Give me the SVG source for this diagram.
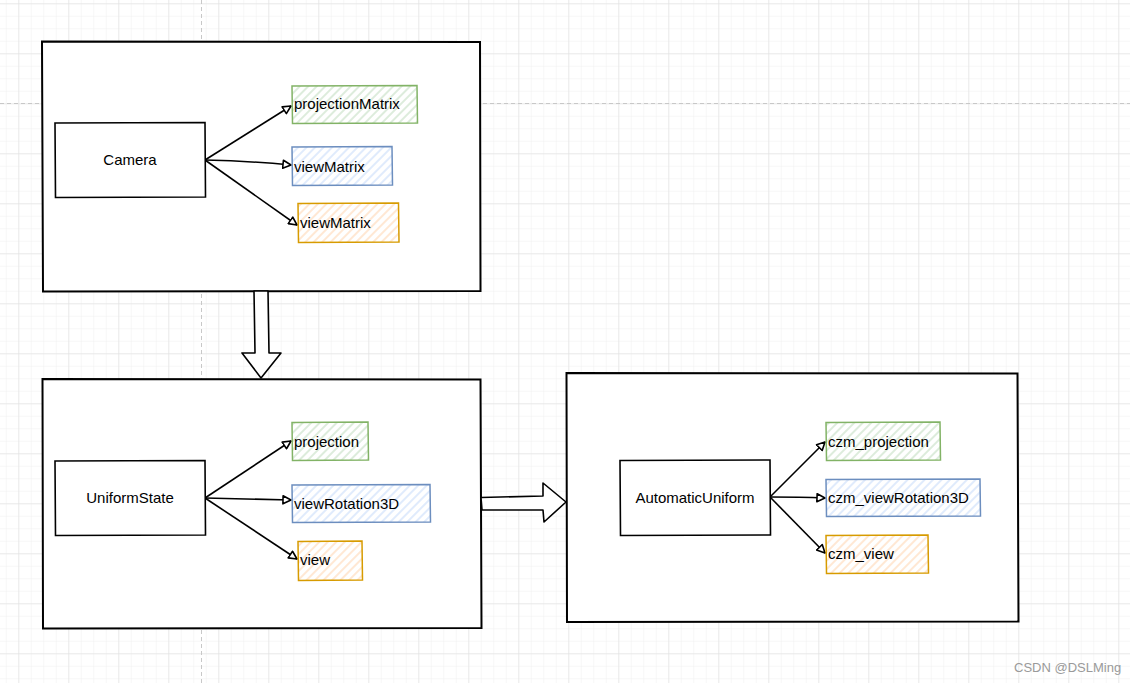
<svg xmlns="http://www.w3.org/2000/svg" width="1130" height="683" viewBox="0 0 1130 683">
<defs>
<pattern id="minor" width="12.5" height="12.5" patternUnits="userSpaceOnUse" x="5.8" y="3.3">
<path d="M0 0H12.5M0 0V12.5" fill="none" stroke="#f0f0f0" stroke-width="1"/>
</pattern>
<pattern id="major" width="50" height="50" patternUnits="userSpaceOnUse" x="18.3" y="3.3">
<path d="M0 0H50M0 0V50" fill="none" stroke="#dedede" stroke-width="1"/>
</pattern>
<pattern id="hg" width="6" height="6" patternUnits="userSpaceOnUse" patternTransform="rotate(-45)">
<rect width="6" height="6" fill="#ffffff"/>
<line x1="0" y1="3" x2="6" y2="3" stroke="#cfe5cd" stroke-width="1.4"/>
</pattern>
<pattern id="hb" width="6" height="6" patternUnits="userSpaceOnUse" patternTransform="rotate(-45)">
<rect width="6" height="6" fill="#ffffff"/>
<line x1="0" y1="3" x2="6" y2="3" stroke="#d3e3fb" stroke-width="1.4"/>
</pattern>
<pattern id="ho" width="6" height="6" patternUnits="userSpaceOnUse" patternTransform="rotate(-45)">
<rect width="6" height="6" fill="#ffffff"/>
<line x1="0" y1="3" x2="6" y2="3" stroke="#ffdfc2" stroke-width="1.4"/>
</pattern>
<marker id="ah" viewBox="0 0 10 10" refX="9" refY="5" markerWidth="10" markerHeight="10" markerUnits="userSpaceOnUse" orient="auto">
<path d="M1 1 L9 5 L1 9 Z" fill="#ffffff" stroke="#000" stroke-width="1.6" stroke-linejoin="round"/>
</marker>
</defs>
<style>
text{font-family:"Liberation Sans",Arial,sans-serif;font-size:15px;fill:#000}
.c{text-anchor:middle}
.cont{fill:#fff;stroke:#000;stroke-width:2}
.box{fill:#fff;stroke:#000;stroke-width:1.6}
.g{fill:url(#hg);stroke:#82b366;stroke-width:1.5}
.b{fill:url(#hb);stroke:#6c8ebf;stroke-width:1.5}
.o{fill:url(#ho);stroke:#d79b00;stroke-width:1.5}
.edge{fill:none;stroke:#000;stroke-width:1.6;marker-end:url(#ah)}
.big{fill:#fff;stroke:#000;stroke-width:1.6;stroke-linejoin:round}
.dash{stroke:#c8c8c8;stroke-width:1;stroke-dasharray:4 3}
</style>
<rect width="1130" height="683" fill="#ffffff"/>
<rect width="1130" height="683" fill="url(#minor)"/>
<rect width="1130" height="683" fill="url(#major)"/>
<line class="dash" x1="0" y1="103.5" x2="1130" y2="103.5"/>
<line class="dash" x1="201.5" y1="0" x2="201.5" y2="683"/>

<g id="camera-group">
<path class="cont" d="M42 41.5 L480 42 L480.5 291 L43 291.5 Z"/>
</g>
<g id="uniformstate-group">
<path class="cont" d="M42.5 379 L480.5 379.5 L481.5 628 L43 628.5 Z"/>
</g>
<g id="automaticuniform-group">
<path class="cont" d="M566.5 373 L1017.5 373.5 L1018.5 621.5 L567 622 Z"/>
</g>

<g id="connectors">
<path class="edge" d="M205 160 L291 106"/>
<path class="edge" d="M205 160 Q250 161 291 165"/>
<path class="edge" d="M205 160 L297 225"/>
<path class="edge" d="M205 498 L291 441"/>
<path class="edge" d="M205 498 L291 500"/>
<path class="edge" d="M205 498 L297 559"/>
<path class="edge" d="M770 497 L825 442"/>
<path class="edge" d="M770 497 Q800 497 825 498"/>
<path class="edge" d="M770 497 L825 553"/>
<path id="arrow-down" class="big" d="M254 291 L268 291 L269 353 L281 353 L261 378 L242 353 L255 353 Z"/>
<path id="arrow-right" class="big" d="M481 497.5 L543 496 L543 483 L566 502 L544 522 L543 510 L482 510 Z"/>
</g>

<g id="camera">
<path class="box" d="M55 123 L205 122.5 L205.5 197 L55.5 197.5 Z"/>
<text class="c" x="130" y="165">Camera</text>
</g>
<g id="projectionMatrix">
<path class="g" d="M292 86 L417 85.5 L417.5 123 L292.5 123.5 Z"/>
<text x="294" y="109">projectionMatrix</text>
</g>
<g id="viewMatrix-1">
<path class="b" d="M292 147 L392 146.5 L392.5 185 L292.5 185.5 Z"/>
<text x="294" y="172">viewMatrix</text>
</g>
<g id="viewMatrix-2">
<path class="o" d="M298 203.5 L398.5 203 L399 242 L298.5 242.5 Z"/>
<text x="300" y="228">viewMatrix</text>
</g>

<g id="uniformstate">
<path class="box" d="M55 461 L205 460.5 L205.5 535 L55.5 535.5 Z"/>
<text class="c" x="130" y="503">UniformState</text>
</g>
<g id="projection">
<path class="g" d="M292 422.5 L368 422 L368.5 460 L292.5 460.5 Z"/>
<text x="294" y="447">projection</text>
</g>
<g id="viewRotation3D">
<path class="b" d="M292 485 L430 484.5 L430.5 522 L292.5 522.5 Z"/>
<text x="294" y="509">viewRotation3D</text>
</g>
<g id="view">
<path class="o" d="M298 541.5 L362 541 L362.5 580 L298.5 580.5 Z"/>
<text x="300" y="565">view</text>
</g>

<g id="automaticuniform">
<path class="box" d="M620 460.5 L770 460 L770.5 535 L620.5 535.5 Z"/>
<text class="c" x="695" y="503">AutomaticUniform</text>
</g>
<g id="czm_projection">
<path class="g" d="M826 422.5 L940 422 L940.5 460 L826.5 460.5 Z"/>
<text x="828" y="447">czm_projection</text>
</g>
<g id="czm_viewRotation3D">
<path class="b" d="M826 479.5 L980 479 L980.5 516 L826.5 516.5 Z"/>
<text x="828" y="503">czm_viewRotation3D</text>
</g>
<g id="czm_view">
<path class="o" d="M826 535.5 L928 535 L928.5 573 L826.5 573.5 Z"/>
<text x="828" y="559">czm_view</text>
</g>

<text x="1014" y="672" style="font-size:13px;fill:#9a9a9a">CSDN @DSLMing</text>
</svg>
